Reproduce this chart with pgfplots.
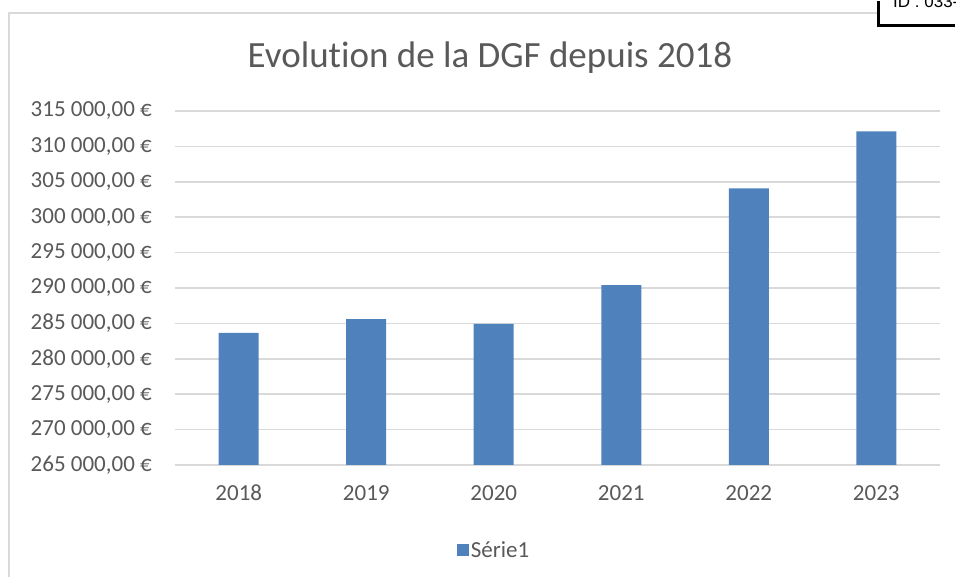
\documentclass[border=0pt]{standalone}
\usepackage{pgfplots}
\pgfplotsset{compat=1.18}
\usepackage{fontspec}
\setmainfont{Carlito}[Ligatures=NoCommon]
\definecolor{barblue}{HTML}{4F81BD}
\definecolor{gridgray}{HTML}{D9D9D9}
\definecolor{txtgray}{HTML}{595959}
\begin{document}
\begin{tikzpicture}
\begin{axis}[
  scale only axis, width=765pt, height=354pt,
  ybar, bar width=40pt, bar shift=0pt,
  xmin=-0.5, xmax=5.5, ymin=265000, ymax=315000,
  scaled y ticks=false,
  xtick={0,1,2,3,4,5},
  xticklabels={2018,2019,2020,2021,2022,2023},
  ytick={265000,270000,275000,280000,285000,290000,295000,300000,305000,310000,315000},
  yticklabels={{265 000,00 €},{270 000,00 €},{275 000,00 €},{280 000,00 €},{285 000,00 €},{290 000,00 €},{295 000,00 €},{300 000,00 €},{305 000,00 €},{310 000,00 €},{315 000,00 €}},
  major tick length=0pt,
  axis line style={draw=none},
  ymajorgrids, grid style={gridgray, line width=1.5pt},
  ticklabel style={text=txtgray, font=\fontsize{23}{27}\selectfont},
  yticklabel style={anchor=east, inner sep=0pt, xshift=-23pt},
  xticklabel style={anchor=north, inner sep=0pt, yshift=-20pt},
  legend style={at={(0.417,-0.240)}, anchor=center, draw=none, fill=none,
    font=\fontsize{23}{27}\selectfont, text=txtgray},
  legend image code/.code={\fill[barblue] (0pt,-6pt) rectangle (12pt,6pt);},
]
\addplot[fill=barblue, draw=none] coordinates {
  (0,283650) (1,285620) (2,284920) (3,290420) (4,304080) (5,312130)
};
\addlegendentry{Série1}
\coordinate (SW) at (rel axis cs:0,0);
\end{axis}
\begin{scope}[shift={(SW)}, x=1pt, y=1pt, xshift=-175pt, yshift=-113pt]
\path (0,0) rectangle (956,578);
\draw[gridgray, line width=1.5pt] (9,0.75) -- (9,565) -- (878,565);
\node[anchor=base, text=txtgray, font=\fontsize{37}{44}\selectfont] at (490,510) {Evolution de la DGF depuis 2018};
\fill[white] (877,551) rectangle (956,578);
\draw[black, line width=3pt] (878.5,576.5) -- (878.5,552.5) -- (954.5,552.5);
\node[overlay, anchor=base west, inner sep=0pt, font=\fontsize{17}{20}\selectfont\fontspec{Liberation Sans}] at (893,570) {ID : 033-};
\end{scope}
\end{tikzpicture}
\end{document}
